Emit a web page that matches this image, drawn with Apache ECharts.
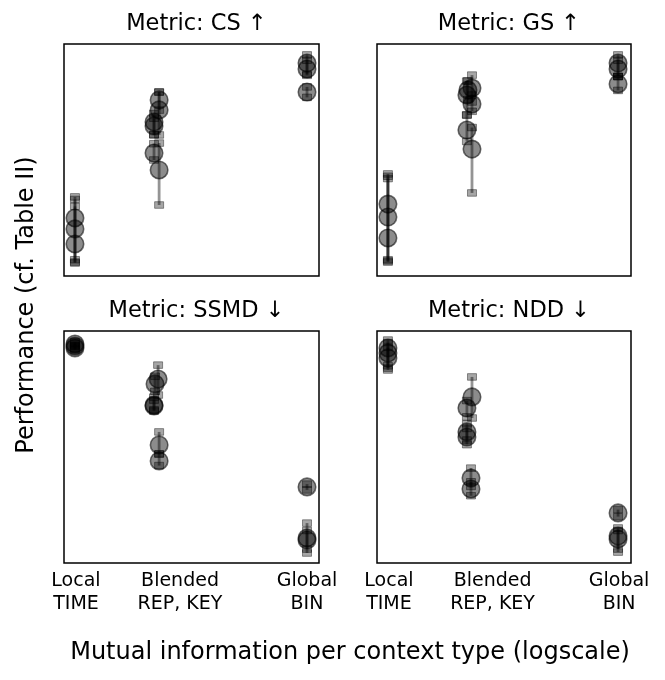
<!DOCTYPE html>
<html lang="en">
<head>
    <meta charset="UTF-8">
    <title>Performance per context type</title>
    <script src="https://cdn.jsdelivr.net/npm/echarts@6/dist/echarts.min.js"></script>
    <style>
        html, body { margin: 0; padding: 0; background: #fff; }
        #main { width: 665px; height: 680px; }
    </style>
</head>
<body>
<div id="main"></div>
<script>
    // x: position on the (log-scaled) mutual information axis, 0..100 of the plotted range
    // y: normalised performance, 0..100 of the plotted range
    // each point: [x, y, errLow, errHigh]
    var panelTitles = ['Metric: CS \u2191', 'Metric: GS \u2191', 'Metric: SSMD \u2193', 'Metric: NDD \u2193'];
    var tickValues = [4.7, 45.5, 95.3];
    var tickLabels = ['Local\nTIME', 'Blended\nREP, KEY', 'Global\nBIN'];

    var csPoints = [
        [4.3, 25.0, 7.0, 34.1], [4.3, 20.3, 5.6, 33.0], [4.3, 13.8, 6.0, 30.0],
        [37.3, 75.9, 71.5, 79.3], [37.3, 71.6, 60.8, 79.3], [35.3, 66.4, 61.0, 70.0],
        [35.3, 64.7, 60.8, 68.0], [35.3, 53.0, 50.0, 57.0], [37.3, 45.7, 30.6, 57.3],
        [95.3, 91.8, 87.0, 95.3], [95.3, 89.2, 86.5, 93.0], [95.3, 79.3, 77.0, 81.5]
    ];
    var gsPoints = [
        [4.3, 31.0, 6.0, 44.0], [4.3, 25.4, 7.0, 42.0], [4.3, 16.4, 6.5, 43.0],
        [35.8, 80.2, 76.0, 84.1], [37.4, 81.0, 75.0, 86.6], [35.4, 78.0, 69.4, 84.0],
        [37.4, 74.1, 71.0, 78.0], [35.4, 62.9, 58.0, 69.4], [37.4, 54.7, 35.8, 64.0],
        [94.9, 91.8, 86.0, 95.3], [94.9, 89.2, 86.0, 93.0], [94.9, 82.8, 80.0, 86.0]
    ];
    var ssmdPoints = [
        [4.3, 94.4, 93.5, 95.3], [4.3, 93.5, 92.5, 94.5], [4.3, 92.7, 91.8, 93.6],
        [36.9, 79.3, 72.4, 85.3], [35.7, 77.2, 74.0, 80.5], [35.3, 68.1, 66.0, 70.2],
        [35.3, 67.7, 65.5, 71.5], [37.3, 50.9, 47.0, 56.5], [37.3, 44.0, 42.0, 47.0],
        [95.3, 32.8, 31.5, 34.0], [95.3, 10.8, 4.3, 17.2], [95.3, 9.9, 6.0, 14.0]
    ];
    var nddPoints = [
        [4.3, 92.7, 85.0, 96.1], [4.3, 90.5, 83.2, 95.0], [4.3, 88.4, 84.0, 93.0],
        [37.4, 71.6, 62.5, 80.2], [35.4, 66.8, 63.0, 70.0], [35.4, 56.5, 53.0, 60.0],
        [35.4, 54.3, 51.0, 58.0], [37.0, 36.6, 33.0, 40.9], [37.0, 31.9, 29.0, 35.0],
        [94.9, 21.6, 20.0, 23.0], [94.9, 11.6, 6.0, 15.1], [94.9, 10.3, 4.7, 14.0]
    ];
    var panelData = [csPoints, gsPoints, ssmdPoints, nddPoints];

    var grids = [
        { left: 64, top: 44, width: 255, height: 232 },
        { left: 377, top: 44, width: 254, height: 232 },
        { left: 64, top: 331, width: 255, height: 232 },
        { left: 377, top: 331, width: 254, height: 232 }
    ];

    var fontFamily = '"DejaVu Sans", sans-serif';
    var chart = echarts.init(document.getElementById('main'));

    var option = {
        animation: false,
        backgroundColor: '#fff',
        title: [],
        grid: [],
        xAxis: [],
        yAxis: [],
        series: [],
        graphic: [
            {
                type: 'text',
                x: 27, y: 305,
                rotation: Math.PI / 2,
                style: {
                    text: 'Performance (cf. Table II)',
                    font: '24px ' + fontFamily,
                    fill: '#000',
                    align: 'center',
                    verticalAlign: 'middle'
                }
            },
            {
                type: 'text',
                x: 350, y: 653,
                style: {
                    text: 'Mutual information per context type (logscale)',
                    font: '24px ' + fontFamily,
                    fill: '#000',
                    align: 'center',
                    verticalAlign: 'middle'
                }
            }
        ]
    };

    // 误差线：竖线 + 两端的方形端帽
    function renderErrorBar(params, api) {
        var x = api.value(0);
        var top = api.coord([x, api.value(3)]);
        var bot = api.coord([x, api.value(2)]);
        var capStyle = { fill: 'rgba(0,0,0,0.35)', stroke: 'rgba(0,0,0,0.4)', lineWidth: 1 };
        return {
            type: 'group',
            children: [
                {
                    type: 'line',
                    shape: { x1: top[0], y1: top[1], x2: bot[0], y2: bot[1] },
                    style: { stroke: 'rgba(0,0,0,0.42)', lineWidth: 2.8 }
                },
                { type: 'rect', shape: { x: top[0] - 4.5, y: top[1] - 3.3, width: 9, height: 6.6 }, style: capStyle },
                { type: 'rect', shape: { x: bot[0] - 4.5, y: bot[1] - 3.3, width: 9, height: 6.6 }, style: capStyle }
            ]
        };
    }

    grids.forEach(function (g, i) {
        var bottomRow = i >= 2;
        option.grid.push({
            left: g.left, top: g.top, width: g.width, height: g.height,
            show: true, borderColor: '#000', borderWidth: 1.5, backgroundColor: 'transparent'
        });
        option.title.push({
            text: panelTitles[i],
            left: g.left + g.width / 2,
            top: g.top - 36,
            textAlign: 'center',
            textStyle: { fontFamily: fontFamily, fontSize: 22.5, fontWeight: 'normal', color: '#000' }
        });
        option.xAxis.push({
            type: 'value', gridIndex: i, min: 0, max: 100,
            axisLine: { show: false },
            axisTick: { show: false },
            splitLine: { show: false },
            axisLabel: {
                show: bottomRow,
                customValues: tickValues,
                margin: 7,
                fontFamily: fontFamily,
                fontSize: 19,
                lineHeight: 22.5,
                color: '#000',
                formatter: function (v) {
                    var k = tickValues.indexOf(v);
                    return k >= 0 ? tickLabels[k] : '';
                }
            }
        });
        option.yAxis.push({
            type: 'value', gridIndex: i, min: 0, max: 100,
            axisLine: { show: false },
            axisTick: { show: false },
            axisLabel: { show: false },
            splitLine: { show: false }
        });
        option.series.push({
            type: 'scatter',
            xAxisIndex: i, yAxisIndex: i,
            symbolSize: 17.5,
            data: panelData[i].map(function (p) { return [p[0], p[1]]; }),
            itemStyle: { color: 'rgba(0,0,0,0.45)', borderColor: 'rgba(0,0,0,0.55)', borderWidth: 1.6, opacity: 1 },
            z: 2
        });
        option.series.push({
            type: 'custom',
            xAxisIndex: i, yAxisIndex: i,
            renderItem: renderErrorBar,
            encode: { x: 0, y: [2, 3] },
            data: panelData[i],
            clip: false,
            z: 3
        });
    });

    chart.setOption(option);
    window.addEventListener('resize', function () { chart.resize(); });
</script>
</body>
</html>
